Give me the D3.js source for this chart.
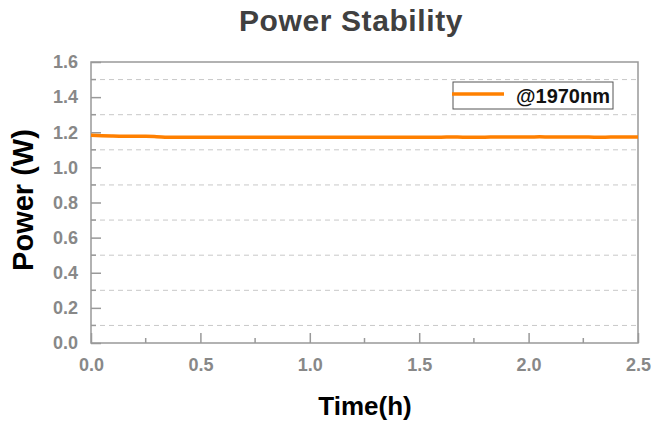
<!DOCTYPE html>
<html><head><meta charset="utf-8">
<script src="https://cdn.jsdelivr.net/npm/d3@7"></script>
<style>body{margin:0;background:#fff;}svg{display:block;font-family:"Liberation Sans",Arial,sans-serif;}</style>
</head><body>
<svg id="c" width="653" height="424"></svg>
<script>
const times = [0,0.05,0.1,0.15,0.2,0.25,0.3,0.35,0.4,0.45,0.5,0.55,0.6,0.65,0.7,0.75,0.8,0.85,0.9,0.95,1.0,1.05,1.1,1.15,1.2,1.25,1.3,1.35,1.4,1.45,1.5,1.55,1.6,1.65,1.7,1.75,1.8,1.85,1.9,1.95,2.0,2.05,2.1,2.15,2.2,2.25,2.3,2.35,2.4,2.45,2.5];
const power = [1.183,1.180,1.178,1.177,1.177,1.177,1.175,1.172,1.171,1.171,1.171,1.171,1.171,1.171,1.171,1.171,1.172,1.171,1.171,1.171,1.171,1.172,1.172,1.172,1.171,1.172,1.172,1.172,1.172,1.172,1.172,1.172,1.172,1.173,1.172,1.172,1.172,1.173,1.173,1.173,1.173,1.174,1.173,1.173,1.173,1.173,1.172,1.172,1.173,1.173,1.173];
const xTicks = [0,0.5,1.0,1.5,2.0,2.5];
const xMinor = [0.25,0.75,1.25,1.75,2.25];
const yTicks = [0,0.2,0.4,0.6,0.8,1.0,1.2,1.4,1.6];
const yMinor = [0.1,0.3,0.5,0.7,0.9,1.1,1.3,1.5];
const seriesName = "@1970nm";

const svg = d3.select("#c");
const L=91, R=638, T=62, B=343;
const x = d3.scaleLinear().domain([0,2.5]).range([L,R]);
const y = d3.scaleLinear().domain([0,1.6]).range([B,T]);
const axisCol = "#999", labCol = "#888";
const ff = "Liberation Sans, Arial, sans-serif";

// minor dashed gridlines
svg.append("g").selectAll("line").data(yMinor).join("line")
  .attr("x1",L).attr("x2",R).attr("y1",d=>y(d)).attr("y2",d=>y(d))
  .attr("stroke","#c8c8c8").attr("stroke-width",1).attr("stroke-dasharray","5,4");

// frame
svg.append("rect").attr("x",L).attr("y",T).attr("width",R-L).attr("height",B-T)
  .attr("fill","none").attr("stroke",axisCol).attr("stroke-width",1.5);

// y axis (ticks inward)
const ya = svg.append("g").attr("transform",`translate(${L},0)`)
  .call(d3.axisLeft(y).tickValues(yTicks).tickFormat(d3.format(".1f")).tickSize(-10).tickPadding(13));
ya.select(".domain").remove();
ya.selectAll("line").attr("stroke",axisCol).attr("stroke-width",1.5);
ya.selectAll("text").attr("fill",labCol).attr("font-size",18).attr("font-weight","bold").attr("font-family",ff);
svg.append("g").selectAll("line").data(yMinor).join("line")
  .attr("x1",L).attr("x2",L+5).attr("y1",d=>y(d)).attr("y2",d=>y(d))
  .attr("stroke",axisCol).attr("stroke-width",1.5);

// x axis
const xa = svg.append("g").attr("transform",`translate(0,${B})`)
  .call(d3.axisBottom(x).tickValues(xTicks).tickFormat(d3.format(".1f")).tickSize(-10).tickPadding(15));
xa.select(".domain").remove();
xa.selectAll("line").attr("stroke",axisCol).attr("stroke-width",1.5);
xa.selectAll("text").attr("fill",labCol).attr("font-size",18).attr("font-weight","bold").attr("font-family",ff);
svg.append("g").selectAll("line").data(xMinor).join("line")
  .attr("x1",d=>x(d)).attr("x2",d=>x(d)).attr("y1",B).attr("y2",B-5)
  .attr("stroke",axisCol).attr("stroke-width",1.5);

// line
const data = times.map((t,i)=>({t,p:power[i]}));
svg.append("path").datum(data)
  .attr("d", d3.line().x(d=>x(d.t)).y(d=>y(d.p)).curve(d3.curveMonotoneX))
  .attr("fill","none").attr("stroke","#ff8000").attr("stroke-width",3.5);

// legend
const lg = svg.append("g");
lg.append("rect").attr("x",453).attr("y",82).attr("width",160).attr("height",27)
  .attr("fill","#fff").attr("stroke","#555").attr("stroke-width",1);
lg.append("line").attr("x1",452).attr("x2",504).attr("y1",94).attr("y2",94)
  .attr("stroke","#ff8000").attr("stroke-width",3.5);
lg.append("text").attr("x",516).attr("y",103).attr("font-size",20).attr("font-weight","bold")
  .attr("fill","#111").text(seriesName);

// titles
svg.append("text").attr("x",351).attr("y",31).attr("text-anchor","middle")
  .attr("font-size",30).attr("font-weight","bold").attr("letter-spacing","0.6")
  .attr("fill","#404040").text("Power Stability");
svg.append("text").attr("x",365).attr("y",415).attr("text-anchor","middle")
  .attr("font-size",26).attr("font-weight","bold").attr("fill","#000").text("Time(h)");
svg.append("text").attr("transform","translate(33,200) rotate(-90)").attr("text-anchor","middle")
  .attr("font-size",29).attr("font-weight","bold").attr("fill","#000").text("Power (W)");
</script>
</body></html>
